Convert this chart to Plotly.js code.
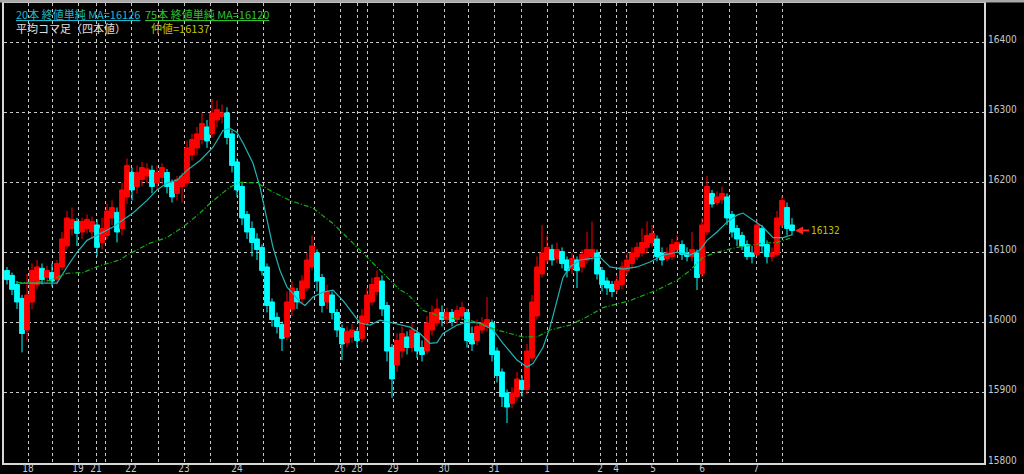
<!DOCTYPE html>
<html>
<head>
<meta charset="utf-8">
<script src="https://cdn.plot.ly/plotly-3.0.1.min.js"></script>
<style>
html,body{margin:0;padding:0;background:#000;}
#chart{width:1024px;height:474px;}
</style>
</head>
<body>
<div id="chart"></div>
<script>
// Heikin-Ashi bars (平均コマ足), one entry per bar
const open = [
16075,16068,16055,16035,15990,16030,16055,16078,16065,16072,
16062,16080,16110,16135,16145,16130,16135,16130,16140,16115,
16125,16150,16158,16135,16180,16215,16195,16205,16210,16218,
16200,16208,16215,16200,16185,16195,16200,16240,16250,16262,
16280,16270,16290,16295,16300,16270,16230,16195,16155,16135,
16120,16108,16080,16030,16008,15998,15980,16020,16045,16035,
16050,16080,16100,16065,16030,16040,16015,15992,15972,15980,
15988,15978,16000,16030,16045,16060,16025,15965,15940,15960,
15980,15965,15985,15965,15960,15990,16000,16015,16005,16015,
16005,16010,16015,15985,15975,15990,15995,16000,15960,15930,
15900,15885,15895,15918,15905,15950,16010,16070,16090,16105,
16092,16102,16090,16078,16090,16080,16090,16095,16100,16075,
16060,16055,16048,16055,16075,16085,16095,16100,16108,16115,
16120,16100,16092,16095,16105,16112,16100,16095,16100,16070,
16130,16185,16172,16176,16180,16155,16135,16125,16112,16100,
16098,16135,16112,16095,16098,16140,16165,16140];
const high = [
16080,16072,16060,16040,16070,16085,16090,16085,16082,16085,
16090,16130,16160,16165,16150,16150,16155,16152,16148,16150,
16170,16175,16165,16200,16235,16222,16225,16230,16228,16225,
16225,16228,16220,16205,16210,16215,16260,16270,16280,16300,
16290,16320,16318,16312,16308,16275,16235,16200,16160,16145,
16128,16112,16085,16035,16015,16002,16045,16060,16050,16068,
16100,16125,16105,16070,16055,16045,16020,15998,15995,15998,
15992,16020,16050,16065,16075,16068,16030,15970,15985,15995,
15988,16000,15990,15975,16010,16025,16035,16025,16022,16020,
16025,16030,16020,15995,16005,16008,16037,16005,15965,15935,
15905,15908,15930,15925,15970,16040,16095,16140,16125,16112,
16115,16108,16095,16100,16095,16105,16130,16145,16105,16080,
16065,16060,16068,16088,16100,16108,16115,16135,16145,16140,
16125,16108,16108,16120,16125,16118,16108,16130,16105,16150,
16210,16190,16188,16195,16185,16160,16140,16130,16118,16110,
16148,16140,16118,16108,16160,16182,16172,16150];
const low = [
16055,16040,16020,15958,15975,16020,16048,16055,16058,16052,
16055,16075,16105,16125,16110,16120,16128,16120,16095,16105,
16120,16140,16115,16125,16170,16175,16185,16195,16200,16185,
16190,16198,16185,16172,16175,16172,16195,16232,16240,16255,
16250,16265,16280,16285,16255,16215,16180,16140,16120,16095,
16090,16068,16015,15995,15985,15960,15975,16010,16020,16028,
16045,16075,16045,16015,16020,16005,15980,15947,15965,15972,
15965,15972,15995,16025,16040,16010,15945,15893,15930,15950,
15955,15958,15950,15945,15955,15982,15995,15995,15998,15995,
16000,16005,15965,15960,15968,15985,15988,15945,15915,15880,
15857,15878,15888,15895,15898,15945,16005,16065,16085,16082,
16085,16078,16065,16070,16050,16072,16085,16088,16062,16045,
16040,16037,16042,16048,16068,16078,16090,16095,16100,16108,
16088,16082,16088,16090,16100,16090,16088,16088,16047,16065,
16125,16165,16168,16170,16140,16122,16110,16104,16090,16085,
16095,16100,16085,16088,16095,16135,16125,16125];
const close = [
16062,16048,16030,15985,16040,16075,16080,16062,16075,16060,
16085,16120,16150,16148,16128,16145,16148,16145,16108,16135,
16160,16165,16130,16190,16225,16190,16215,16222,16220,16195,
16215,16222,16195,16180,16205,16210,16250,16262,16270,16285,
16260,16300,16305,16300,16265,16225,16190,16150,16130,16115,
16105,16075,16025,16005,15995,15978,16030,16050,16030,16060,
16090,16110,16060,16025,16045,16015,15990,15970,15988,15990,
15975,16010,16040,16055,16065,16020,15960,15920,15975,15985,
15965,15990,15960,15955,16000,16015,16020,16005,16015,16002,
16018,16022,15975,15970,15995,16000,16005,15955,15925,15895,
15880,15900,15920,15905,15960,16030,16080,16100,16108,16090,
16105,16085,16075,16092,16075,16098,16105,16105,16070,16055,
16050,16045,16060,16080,16090,16100,16108,16115,16125,16128,
16095,16090,16100,16112,16115,16098,16095,16105,16065,16140,
16195,16170,16180,16185,16150,16130,16120,16110,16095,16095,
16140,16110,16095,16100,16150,16175,16135,16132];

// 20-bar simple MA of closes, position in bar units
const ma20X = [2.6,6.6,10,12,14,16,18.6,21.2,23.2,25.2,28,30,32,34,36,38.6,41.2,43.2,44.6,46,47.2,49.2,50.6,52,53.2,54.6,56,57.2,58.6,59.6,61.2,63.2,65.2,67.2,69.2,70.6,72.6,74.6,76.6,78.6,80.6,82.6,84.6,86,87.2,90,92,94.6,97.2,99.2,102,104,105.2,107.2,108.6,110,111.2,112.6,114.6,116.6,118.6,120.6,123.2,126,128.6,131.2,134,136.6,138.6,140,142,144,146,147.2,149.2,151.2,153.2,155.2,157];
const ma20Y = [16057,16057,16057,16080,16101,16118,16128,16137,16147,16157,16175,16190,16200,16204,16218,16232,16251,16275,16278,16272,16257,16228,16194,16147,16108,16075,16051,16042,16030,16025,16037,16044,16047,16032,16014,16000,15997,16004,16001,15997,15994,15985,15971,15972,15985,15997,16001,16000,15990,15971,15947,15937,15942,15965,15994,16032,16065,16080,16090,16092,16094,16080,16077,16080,16087,16097,16101,16097,16104,16118,16130,16144,16154,16157,16147,16137,16122,16122,16126];

// 75-bar simple MA of closes
const ma75X = [2,5.2,8.6,12,15.2,18.6,22.6,24,28.6,32,35.2,38.6,40.6,44.6,46.6,50,53.2,56.6,61.2,65.2,69.2,72.6,76,78.6,80,83.2,87.2,92.6,98,103.2,106,108.6,112.6,116.6,119.2,124.6,130,134,136.6,139.2,142,146,151.2,154,156.6];
const ma75Y = [16058,16057,16061,16071,16072,16082,16090,16097,16114,16122,16137,16157,16171,16194,16201,16200,16187,16175,16164,16142,16114,16090,16065,16047,16042,16018,16008,16004,15990,15980,15980,15990,15997,16011,16022,16032,16047,16061,16075,16094,16101,16108,16114,16115,16121];

// date labels of the time axis (bar units), blank = grid line only
const tickPos = [4.2,9,14.2,17.8,19.6,24.8,30.2,35.4,40.6,46,51.2,56.6,61.4,66.6,70,72,77.2,82,87.4,92.2,97.4,102.8,108,113.2,118.6,121.8,123.8,129.2,134,139,144.4,149.8,155];
const tickLbl = ['18','','19','21','','22','','23','','24','','25','','26','28','','29','','30','','31','','1','','2','4','','5','','6','','7',''];
const priceTicks = [15800,15900,16000,16100,16200,16300,16400];

const legendMA20 = '20本 終値単純 MA=16126';
const legendMA75 = '75本 終値単純 MA=16120';
const legendBars = '平均コマ足（四本値）';
const legendMid = '仲値=16137';

const idx = open.map((_, i) => i);
const lastClose = close[close.length - 1];

const numFont = 'Liberation Sans Narrow, DejaVu Sans Condensed, Arial Narrow, sans-serif';
const cjkFont = 'Noto Sans CJK JP, sans-serif';

const traces = [
  {
    type: 'candlestick', x: idx, open: open, high: high, low: low, close: close,
    increasing: {line: {color: '#ff0000', width: 1}, fillcolor: '#ff0000'},
    decreasing: {line: {color: '#00ffff', width: 1}, fillcolor: '#00ffff'},
    whiskerwidth: 0, hoverinfo: 'skip'
  },
  {
    type: 'scatter', mode: 'lines', x: ma20X, y: ma20Y,
    line: {color: '#22b4b4', width: 1.2}, hoverinfo: 'skip'
  },
  {
    type: 'scatter', mode: 'lines', x: ma75X, y: ma75Y,
    line: {color: '#10b010', width: 1.2, dash: '5px,2px,1px,2px'}, hoverinfo: 'skip'
  }
];

const gridStyle = {showgrid: true, gridcolor: '#c8c8c8', gridwidth: 1, griddash: '3px,3px', zeroline: false,
  showline: true, mirror: true, linecolor: '#d8d8d8', linewidth: 2, ticks: '', fixedrange: true};

const layout = {
  width: 1024, height: 474,
  paper_bgcolor: '#000', plot_bgcolor: '#000',
  margin: {l: 4, r: 40, t: 3, b: 11, pad: 0},
  showlegend: false,
  boxgap: 0.05,
  boxgroupgap: 0,
  xaxis: Object.assign({}, gridStyle, {
    range: [-0.6, 195.4], tickmode: 'array', tickvals: tickPos, ticktext: tickLbl,
    tickfont: {family: numFont, size: 10, color: '#c8c8c8'}, ticklabelstandoff: -5,
    rangeslider: {visible: false}, automargin: false
  }),
  yaxis: Object.assign({}, gridStyle, {
    side: 'right', range: [15800, 16457], tickmode: 'array', tickvals: priceTicks,
    ticktext: priceTicks.map(String), ticklabelshift: -3,
    tickfont: {family: numFont, size: 10, color: '#c8c8c8'}, automargin: false
  }),
  shapes: [
    {type: 'rect', xref: 'paper', yref: 'paper', x0: -0.01, x1: 1.05, y0: 1 + 0.6/460, y1: 1 + 3/460,
     fillcolor: '#a8a8a8', line: {width: 0}, layer: 'above'}
  ],
  annotations: [
    {xref: 'paper', yref: 'paper', x: 0, y: 1, xanchor: 'left', yanchor: 'top', xshift: 10, yshift: -1,
     text: legendMA20, showarrow: false, font: {family: cjkFont, size: 11, color: '#20b8c8', lineposition: 'under'}},
    {xref: 'paper', yref: 'paper', x: 0, y: 1, xanchor: 'left', yanchor: 'top', xshift: 139, yshift: -1,
     text: legendMA75, showarrow: false, font: {family: cjkFont, size: 11, color: '#30c030', lineposition: 'under'}},
    {xref: 'paper', yref: 'paper', x: 0, y: 1, xanchor: 'left', yanchor: 'top', xshift: 10, yshift: -15,
     text: legendBars, showarrow: false, font: {family: cjkFont, size: 11, color: '#e0e0e0'}},
    {xref: 'paper', yref: 'paper', x: 0, y: 1, xanchor: 'left', yanchor: 'top', xshift: 145, yshift: -15,
     text: legendMid, showarrow: false, font: {family: cjkFont, size: 11, color: '#c0c000'}},
    {xref: 'x', yref: 'y', x: idx[idx.length - 1] + 0.6, y: lastClose, text: String(lastClose),
     showarrow: true, ax: 14, ay: 0, xanchor: 'left', arrowcolor: '#ff2020', arrowwidth: 2, arrowhead: 2,
     arrowsize: 0.8, standoff: 0, font: {family: numFont, size: 10, color: '#c0c000'}}
  ]
};

Plotly.newPlot('chart', traces, layout, {displayModeBar: false, staticPlot: true});
</script>
</body>
</html>
